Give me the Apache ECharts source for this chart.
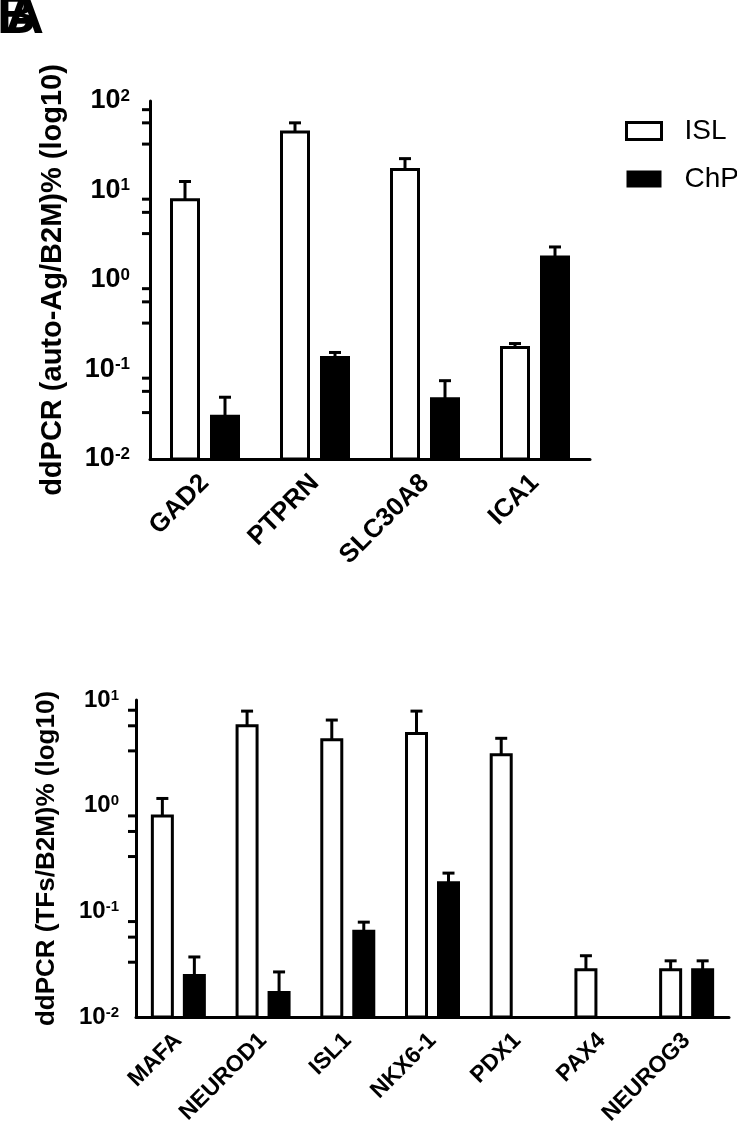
<!DOCTYPE html>
<html>
<head>
<meta charset="utf-8">
<script src="https://cdn.jsdelivr.net/npm/echarts@6/dist/echarts.min.js"></script>
<style>
html, body { margin: 0; padding: 0; background: #fff; }
#chart { width: 737px; height: 1144px; }
</style>
</head>
<body>
<div id="chart"></div>
<script>
// top panel: auto-antigens
var agGenes = ['GAD2', 'PTPRN', 'SLC30A8', 'ICA1'];
var agIsl = [7.9, 45, 17.2, 0.176];
var agIslUp = [12.6, 57, 22.7, 0.195];
var agChp = [0.030, 0.136, 0.047, 1.81];
var agChpUp = [0.049, 0.155, 0.075, 2.34];

// bottom panel: transcription factors
var tfGenes = ['MAFA', 'NEUROD1', 'ISL1', 'NKX6-1', 'PDX1', 'PAX4', 'NEUROG3'];
var tfIsl = [0.80, 5.7, 4.2, 4.83, 3.04, 0.028, 0.028];
var tfIslUp = [1.17, 7.85, 6.46, 7.85, 4.34, 0.038, 0.034];
var tfChp = [0.0247, 0.0171, 0.0647, 0.186, null, null, 0.028];
var tfChpUp = [0.037, 0.0267, 0.079, 0.23, null, null, 0.034];

// axis ranges and minor ticks (Prism style)
var agRange = [0.01, 100];
var tfRange = [0.01, 10];
var agMinor = [80, 57, 33, 8, 5.7, 3.3, 0.8, 0.57, 0.33, 0.08, 0.057, 0.033];
var tfMinor = [8, 5.7, 3.3, 0.8, 0.57, 0.33, 0.08, 0.057, 0.033];

var FONT = 'Liberation Sans, Arial, sans-serif';

function toData(means, ups) {
	var out = [];
	for (var i = 0; i < means.length; i++) {
		if (means[i] != null) out.push([i, means[i], ups[i]]);
	}
	return out;
}

function barRender(offset, width, fill, base) {
	return function (params, api) {
		var i = api.value(0), v = api.value(1), up = api.value(2);
		var top = api.coord([i, v]);
		var bot = api.coord([i, base]);
		var x = top[0] + offset;
		var kids = [{
			type: 'rect',
			shape: { x: x - width / 2, y: top[1], width: width, height: bot[1] - top[1] },
			style: { fill: fill, stroke: '#000', lineWidth: 3 }
		}];
		if (up > v) {
			var e = api.coord([i, up]);
			kids.push({ type: 'line', shape: { x1: x, y1: top[1], x2: x, y2: e[1] }, style: { stroke: '#000', lineWidth: 3 } });
			kids.push({ type: 'line', shape: { x1: x - 6, y1: e[1], x2: x + 6, y2: e[1] }, style: { stroke: '#000', lineWidth: 3 } });
		}
		return { type: 'group', children: kids };
	};
}

function minorRender(params, api) {
	var y = api.coord([0, api.value(1)])[1];
	var x0 = params.coordSys.x;
	return { type: 'line', shape: { x1: x0 - 8, y1: y, x2: x0, y2: y }, style: { stroke: '#000', lineWidth: 3 } };
}

function xAxis(idx, cats, fs) {
	return {
		type: 'category',
		gridIndex: idx,
		data: cats,
		axisLine: { onZero: false, lineStyle: { color: '#000', width: 3 } },
		axisTick: { alignWithLabel: true, length: 14, lineStyle: { color: '#000', width: 3 } },
		axisLabel: { rotate: 45, margin: 20, color: '#000', fontSize: fs, fontWeight: 'bold', fontFamily: FONT },
		splitLine: { show: false }
	};
}

function yAxis(idx, range, name, gap, titleSize, fs, margin) {
	return {
		type: 'log',
		gridIndex: idx,
		logBase: 10,
		min: range[0],
		max: range[1],
		name: name,
		nameLocation: 'middle',
		nameRotate: 90,
		nameGap: gap,
		nameTextStyle: { color: '#000', fontSize: titleSize, fontWeight: 'bold', fontFamily: FONT },
		axisLine: { show: true, lineStyle: { color: '#000', width: 3 } },
		axisTick: { length: 15, lineStyle: { color: '#000', width: 3 } },
		splitLine: { show: false },
		axisLabel: {
			margin: margin,
			formatter: function (v) {
				return '{b|10}{s|' + Math.round(Math.log10(v)) + '}';
			},
			rich: {
				b: { fontSize: fs, fontWeight: 'bold', color: '#000', fontFamily: FONT },
				s: { fontSize: Math.round(fs * 0.62), fontWeight: 'bold', color: '#000', fontFamily: FONT, verticalAlign: 'top' }
			}
		}
	};
}

function bars(name, idx, data, offset, width, fill, base) {
	return {
		name: name,
		type: 'custom',
		xAxisIndex: idx,
		yAxisIndex: idx,
		silent: true,
		itemStyle: { color: fill, borderColor: '#000' },
		encode: { x: 0, y: 1 },
		data: data,
		renderItem: barRender(offset, width, fill, base)
	};
}

var chart = echarts.init(document.getElementById('chart'));
chart.setOption({
	animation: false,
	backgroundColor: '#fff',
	textStyle: { fontFamily: FONT },
	graphic: [
		{ type: 'text', left: -3, top: -9, style: { text: 'B', font: 'bold 54px ' + FONT, fill: '#000' } },
		{ type: 'text', left: 5, top: -9, style: { text: 'A', font: 'bold 54px ' + FONT, fill: '#000' } }
	],
	legend: {
		orient: 'vertical',
		left: 620,
		top: 112,
		itemWidth: 35,
		itemHeight: 17,
		itemGap: 20,
		selectedMode: false,
		textStyle: { color: '#000', fontSize: 28, fontFamily: FONT, padding: [0, 0, 0, 18] },
		data: [
			{ name: 'ISL', icon: 'rect', itemStyle: { color: '#fff', borderColor: '#000', borderWidth: 3 } },
			{ name: 'ChP', icon: 'rect', itemStyle: { color: '#000', borderColor: '#000', borderWidth: 0 } }
		]
	},
	grid: [
		{ left: 150, top: 101, width: 440, height: 358 },
		{ left: 136, top: 700, width: 593, height: 317 }
	],
	xAxis: [xAxis(0, agGenes, 26), xAxis(1, tfGenes, 23)],
	yAxis: [
		yAxis(0, agRange, 'ddPCR (auto-Ag/B2M)% (log10)', 83, 29, 27, 20),
		yAxis(1, tfRange, 'ddPCR (TFs/B2M)% (log10)', 76, 26, 24, 17)
	],
	series: [
		bars('ISL', 0, toData(agIsl, agIslUp), -20, 27, '#fff', agRange[0]),
		bars('ChP', 0, toData(agChp, agChpUp), 20, 27, '#000', agRange[0]),
		bars('ISL', 1, toData(tfIsl, tfIslUp), -16, 20, '#fff', tfRange[0]),
		bars('ChP', 1, toData(tfChp, tfChpUp), 16, 20, '#000', tfRange[0]),
		{
			type: 'custom', xAxisIndex: 0, yAxisIndex: 0, silent: true,
			data: agMinor.map(function (v) { return [0, v]; }),
			renderItem: minorRender
		},
		{
			type: 'custom', xAxisIndex: 1, yAxisIndex: 1, silent: true,
			data: tfMinor.map(function (v) { return [0, v]; }),
			renderItem: minorRender
		}
	]
});
</script>
</body>
</html>
